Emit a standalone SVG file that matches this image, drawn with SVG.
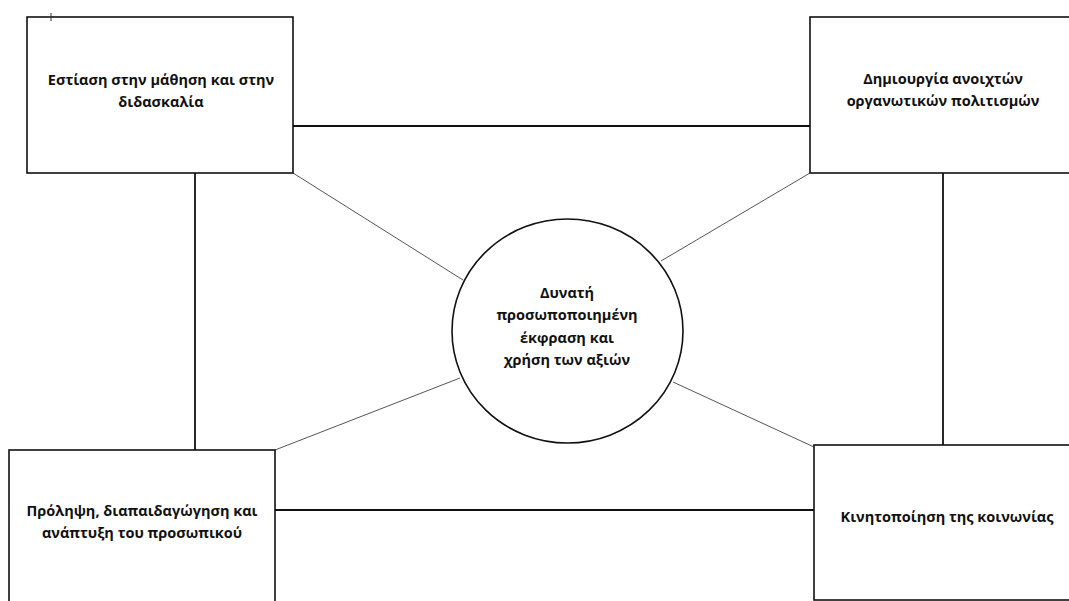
<svg xmlns="http://www.w3.org/2000/svg" width="1069" height="601" viewBox="0 0 1069 601">
<style>
.box{fill:#fff;stroke:#111;stroke-width:1.6}
.link{stroke:#111;stroke-width:1.8;fill:none}
.spoke{stroke:#555;stroke-width:1;fill:none}
.t{font-family:"Open Sans","Noto Sans","Liberation Sans",sans-serif;font-weight:bold;font-size:14.5px;fill:#111;text-anchor:middle}
</style>
<rect width="1069" height="601" fill="#fff"/>
<g id="connectors">
<line class="link" x1="293" y1="126" x2="810" y2="126"/>
<line class="link" x1="195" y1="173" x2="195" y2="450"/>
<line class="link" x1="943" y1="173" x2="943" y2="445"/>
<line class="link" x1="275" y1="510" x2="814" y2="510"/>
<line class="spoke" x1="293" y1="173" x2="463" y2="280"/>
<line class="spoke" x1="810" y1="173" x2="661" y2="261"/>
<line class="spoke" x1="275" y1="450" x2="460" y2="378"/>
<line class="spoke" x1="814" y1="447" x2="673" y2="382"/>
</g>
<g id="node-tl">
<rect class="box" x="27" y="17" width="266" height="156"/>
<path d="M51 13V21" stroke="#333" stroke-width="1"/>
<text class="t" x="161" y="85">Εστίαση στην μάθηση και στην</text>
<text class="t" x="161" y="107">διδασκαλία</text>
</g>
<g id="node-tr">
<rect class="box" x="810" y="17" width="270" height="156"/>
<text class="t" x="943" y="84">Δημιουργία ανοιχτών</text>
<text class="t" x="943" y="106">οργανωτικών πολιτισμών</text>
</g>
<g id="node-bl">
<rect class="box" x="9" y="450" width="266" height="170"/>
<text class="t" x="142" y="516">Πρόληψη, διαπαιδαγώγηση και</text>
<text class="t" x="142" y="538">ανάπτυξη του προσωπικού</text>
</g>
<g id="node-br">
<rect class="box" x="814" y="445" width="270" height="155"/>
<text class="t" x="947" y="522">Κινητοποίηση της κοινωνίας</text>
</g>
<g id="node-center">
<ellipse class="box" cx="567.5" cy="331" rx="115.5" ry="112"/>
<text class="t" x="567" y="298">Δυνατή</text>
<text class="t" x="567" y="320">προσωποποιημένη</text>
<text class="t" x="567" y="343">έκφραση και</text>
<text class="t" x="567" y="365">χρήση των αξιών</text>
</g>
</svg>
